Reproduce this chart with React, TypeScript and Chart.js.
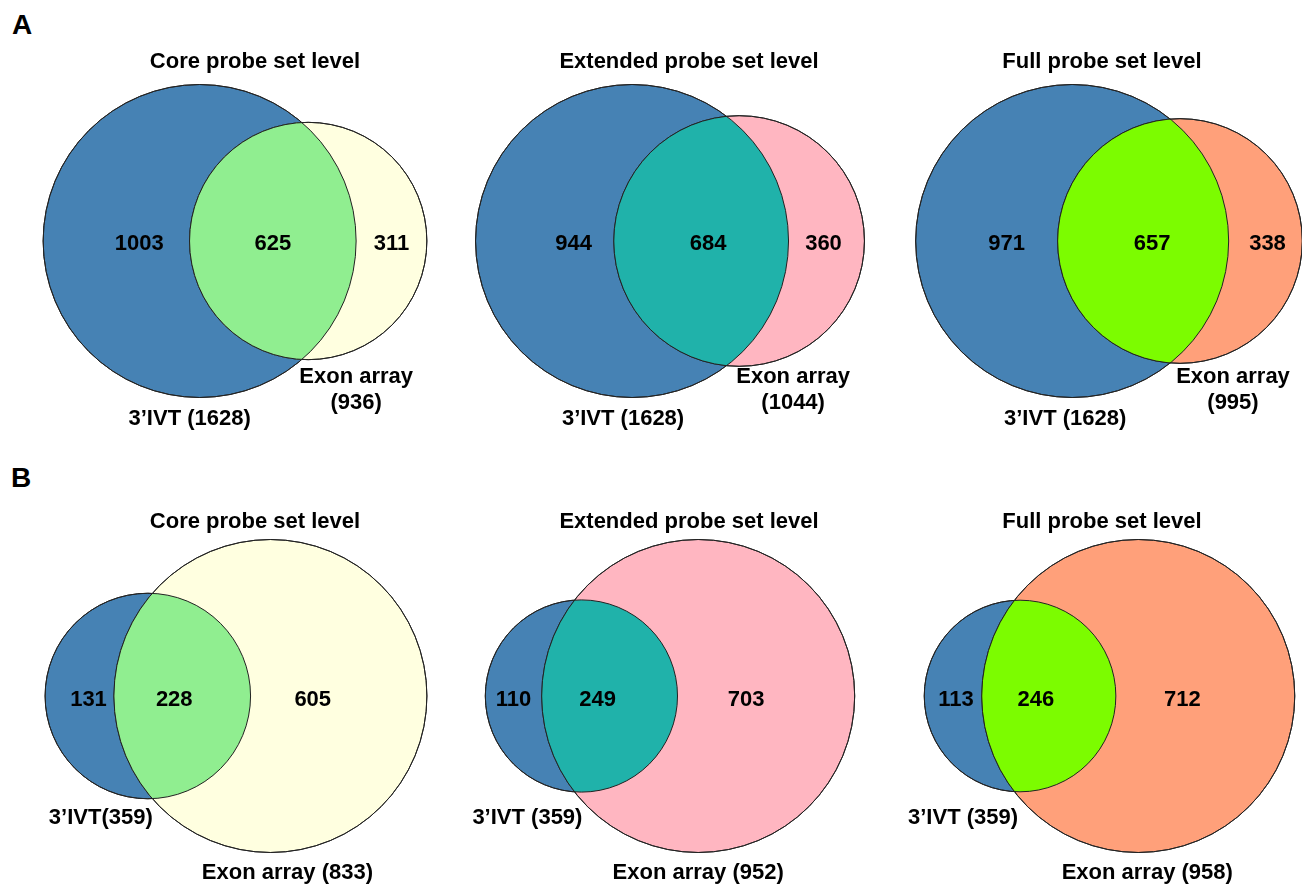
import { useEffect, useRef } from "react";
import { Chart, registerables } from "chart.js";

Chart.register(...registerables);

// 패널 제목 / 행 라벨
const PANEL_TITLES = ["Core probe set level", "Extended probe set level", "Full probe set level"];
const ROW_LETTERS = ["A", "B"];
const IVT_NAME = "3\u2019IVT";
const EXON_NAME = "Exon array";

// A: 3'IVT only / shared / exon only
const A_IVT_ONLY = [1003, 944, 971];
const A_SHARED = [625, 684, 657];
const A_EXON_ONLY = [311, 360, 338];

// B
const B_IVT_ONLY = [131, 110, 113];
const B_SHARED = [228, 249, 246];
const B_EXON_ONLY = [605, 703, 712];

const IVT_COLOR = "#4682B4";
const EXON_COLORS = ["#FFFFE0", "#FFB6C1", "#FFA07A"];
const SHARED_COLORS = ["#90EE90", "#20B2AA", "#7CFC00"];
const OUTLINE = "#222222";

const FONT = "'Liberation Sans', Arial, Helvetica, sans-serif";
const FONT_SIZE = 22;
const PX_PER_UNIT = 156.5; // 큰 원 반지름 = 1 unit

// layout
const COL_CANVAS = [
  { left: 40, width: 430 },
  { left: 469, width: 440 },
  { left: 902, width: 400 },
];
const ROWS = [
  { top: 30, height: 412, titleY: 62, cy: 241, countDy: 3, ivtDy: 178, exonDy: 136, exonGap: 26 },
  { top: 490, height: 395, titleY: 522, cy: 696, countDy: 3.5, ivtDy: 121.5, exonDy: 176.5, exonGap: 26 },
];
const BBOX_CX = [[235, 670, 1109], [236, 670, 1109.5]];
const COUNT_NUDGE = [
  [[23, 0, 0], [29, 7, -3], [20, 9, 2]],
  [[9, -8, -26], [0, -12, -20], [3, -13, -23]],
];
const IVT_DX = [[-10, -9, -7], [-47, -54, -57]];
const EXON_DX = [[48, 54, 53], [17, 0, 9]];

function lensArea(r1: number, r2: number, d: number) {
  if (d >= r1 + r2) return 0;
  if (d <= Math.abs(r1 - r2)) return Math.PI * Math.min(r1, r2) ** 2;
  const a1 = Math.acos((d * d + r1 * r1 - r2 * r2) / (2 * d * r1));
  const a2 = Math.acos((d * d + r2 * r2 - r1 * r1) / (2 * d * r2));
  const k = Math.sqrt((-d + r1 + r2) * (d + r1 - r2) * (d - r1 + r2) * (d + r1 + r2));
  return r1 * r1 * a1 + r2 * r2 * a2 - 0.5 * k;
}

// 겹친 면적이 target이 되는 중심 거리 (bisection)
function solveDistance(r1: number, r2: number, target: number) {
  let lo = Math.abs(r1 - r2);
  let hi = r1 + r2;
  for (let i = 0; i < 60; i++) {
    const mid = (lo + hi) / 2;
    if (lensArea(r1, r2, mid) > target) lo = mid;
    else hi = mid;
  }
  return (lo + hi) / 2;
}

const unitPx = (chart: any) => chart.scales.x.getPixelForValue(1) - chart.scales.x.getPixelForValue(0);

interface PanelProps {
  row: number;
  col: number;
  ivtOnly: number;
  shared: number;
  exonOnly: number;
  ivtText: string;
  exonLines: string[];
}

function VennPanel({ row, col, ivtOnly, shared, exonOnly, ivtText, exonLines }: PanelProps) {
  const canvasRef = useRef<HTMLCanvasElement>(null);
  const R = ROWS[row];
  const C = COL_CANVAS[col];

  useEffect(() => {
    if (!canvasRef.current) return;
    const ivtTotal = ivtOnly + shared;
    const exonTotal = shared + exonOnly;
    const big = Math.max(ivtTotal, exonTotal);
    const r1 = Math.sqrt(ivtTotal / big);
    const r2 = Math.sqrt(exonTotal / big);
    const d = solveDistance(r1, r2, (Math.PI * shared) / big);
    const span = r1 + d + r2;
    const c1 = -span / 2 + r1;
    const c2 = c1 + d;

    const lineH = FONT_SIZE * 1.2;
    const areaTop = R.titleY + lineH / 2;
    const areaBottom = R.top + R.height;
    const xMin = -(BBOX_CX[row][col] - C.left) / PX_PER_UNIT;
    const xMax = xMin + C.width / PX_PER_UNIT;
    const yMax = (R.cy - areaTop) / PX_PER_UNIT;
    const yMin = -(areaBottom - R.cy) / PX_PER_UNIT;
    const nudge = COUNT_NUDGE[row][col];
    const counts = [ivtOnly, shared, exonOnly];
    const sharedColor = SHARED_COLORS[col];

    const vennPlugin = {
      id: "vennLens",
      afterDatasetsDraw(chart: any) {
        const { ctx } = chart;
        const [a, b] = chart.getDatasetMeta(0).data as any[];
        const ra = a.options.radius;
        const rb = b.options.radius;

        // 교집합
        ctx.save();
        ctx.beginPath();
        ctx.arc(a.x, a.y, ra, 0, Math.PI * 2);
        ctx.clip();
        ctx.beginPath();
        ctx.arc(b.x, b.y, rb, 0, Math.PI * 2);
        ctx.fillStyle = sharedColor;
        ctx.fill();
        ctx.restore();

        ctx.save();
        ctx.strokeStyle = OUTLINE;
        ctx.lineWidth = 1;
        for (const [pt, r] of [[a, ra], [b, rb]] as any[]) {
          ctx.beginPath();
          ctx.arc(pt.x, pt.y, r, 0, Math.PI * 2);
          ctx.stroke();
        }

        const xs = chart.scales.x;
        const ys = chart.scales.y;
        const leftEdge = c1 - r1;
        const lensL = c2 - r2;
        const lensR = c1 + r1;
        const rightEdge = c2 + r2;
        const regionX = [(leftEdge + lensL) / 2, (lensL + lensR) / 2, (lensR + rightEdge) / 2];
        const baseY = ys.getPixelForValue(0);

        ctx.fillStyle = "#000";
        ctx.font = `bold ${FONT_SIZE}px ${FONT}`;
        ctx.textAlign = "center";
        ctx.textBaseline = "middle";
        counts.forEach((n, i) => {
          ctx.fillText(String(n), xs.getPixelForValue(regionX[i]) + nudge[i], baseY + R.countDy);
        });

        ctx.fillText(ivtText, a.x + IVT_DX[row][col], baseY + R.ivtDy);
        exonLines.forEach((t, i) => {
          ctx.fillText(t, b.x + EXON_DX[row][col], baseY + R.exonDy + i * R.exonGap);
        });
        ctx.restore();
      },
    };

    const chart = new Chart(canvasRef.current, {
      type: "scatter",
      data: {
        datasets: [
          {
            data: [
              { x: c1, y: 0, size: r1 },
              { x: c2, y: 0, size: r2 },
            ] as any,
            pointBackgroundColor: [IVT_COLOR, EXON_COLORS[col]],
            pointBorderColor: OUTLINE,
            pointBorderWidth: 1,
            pointRadius: (ctx: any) => ctx.raw.size * unitPx(ctx.chart),
            pointHoverRadius: (ctx: any) => ctx.raw.size * unitPx(ctx.chart),
            clip: false as any,
          },
        ],
      },
      options: {
        animation: false,
        responsive: false,
        events: [],
        layout: { padding: 0 },
        plugins: {
          legend: { display: false },
          tooltip: { enabled: false },
          title: {
            display: true,
            text: PANEL_TITLES[col],
            color: "#000",
            font: { family: FONT, size: FONT_SIZE, weight: "bold", lineHeight: 1.2 },
            padding: { top: R.titleY - R.top - lineH / 2, bottom: 0 },
          },
        },
        scales: {
          x: { type: "linear", display: false, min: xMin, max: xMax },
          y: { type: "linear", display: false, min: yMin, max: yMax },
        },
      },
      plugins: [vennPlugin],
    });
    return () => chart.destroy();
  }, [row, col, ivtOnly, shared, exonOnly, ivtText, exonLines]);

  return (
    <canvas
      ref={canvasRef}
      width={C.width}
      height={R.height}
      style={{ position: "absolute", left: C.left, top: R.top, width: C.width, height: R.height }}
    />
  );
}

export default function App() {
  const panels: PanelProps[] = [];
  for (let col = 0; col < 3; col++) {
    const ivt = A_IVT_ONLY[col] + A_SHARED[col];
    const exon = A_SHARED[col] + A_EXON_ONLY[col];
    panels.push({
      row: 0, col,
      ivtOnly: A_IVT_ONLY[col], shared: A_SHARED[col], exonOnly: A_EXON_ONLY[col],
      ivtText: `${IVT_NAME} (${ivt})`,
      exonLines: [EXON_NAME, `(${exon})`],
    });
  }
  for (let col = 0; col < 3; col++) {
    const ivt = B_IVT_ONLY[col] + B_SHARED[col];
    const exon = B_SHARED[col] + B_EXON_ONLY[col];
    panels.push({
      row: 1, col,
      ivtOnly: B_IVT_ONLY[col], shared: B_SHARED[col], exonOnly: B_EXON_ONLY[col],
      ivtText: col === 0 ? `${IVT_NAME}(${ivt})` : `${IVT_NAME} (${ivt})`,
      exonLines: [`${EXON_NAME} (${exon})`],
    });
  }

  return (
    <div style={{ position: "absolute", left: 0, top: 0, width: 1302, height: 885, background: "#fff", overflow: "hidden" }}>
      {ROW_LETTERS.map((l, i) => (
        <div
          key={l}
          style={{
            position: "absolute",
            left: i === 0 ? 22 : 21,
            top: i === 0 ? 25 : 478,
            transform: "translate(-50%, -50%)",
            fontFamily: FONT,
            fontWeight: "bold",
            fontSize: 28,
            lineHeight: 1,
            color: "#000",
          }}
        >
          {l}
        </div>
      ))}
      {panels.map((p) => (
        <VennPanel key={`${p.row}-${p.col}`} {...p} />
      ))}
    </div>
  );
}
